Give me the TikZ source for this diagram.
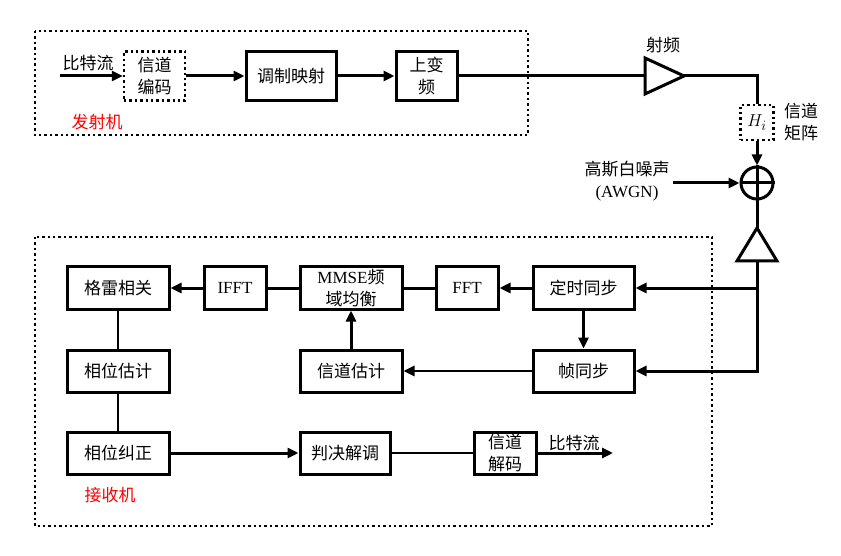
\documentclass[tikz,border=0pt]{standalone}
\usepackage{fontspec}
\setmainfont{Liberation Serif}
\newfontfamily\cjk{Noto Sans CJK SC}
\usetikzlibrary{arrows.meta}
\begin{document}
\begin{tikzpicture}[x=1pt,y=-1pt,
    blk/.style={draw,line width=3pt,inner sep=0pt,minimum height=42pt,align=center},
    zh/.style={font=\fontsize{17}{22}\selectfont\cjk},
    en/.style={font=\fontsize{17}{22}\selectfont},
    dotbox/.style={line width=2.4pt,dash pattern=on 2.4pt off 3pt},
    arr/.style={line width=3pt,-{Triangle[length=11pt,width=10pt]}},
    slim/.style={line width=2.6pt},
    ln/.style={line width=3pt}]
    \useasboundingbox (0,0) rectangle (841,556);
    \draw[dotbox] (35,31) rectangle (528,135);
    \draw[dotbox] (35,237) rectangle (712,526);
    \node[zh] (bitin) at (88,63) {比特流};
    \coordinate (src) at (60,76);
    \node[blk,zh,dotbox,minimum width=61pt,minimum height=49pt] (enc) at (154.5,76) {信道\\编码};
    \node[blk,zh,minimum width=90pt,minimum height=49pt] (mod) at (291,76) {调制映射};
    \node[blk,zh,minimum width=61pt,minimum height=49pt] (upc) at (426.5,76) {上变\\频};
    \node[zh,text=red] (txlbl) at (97,122) {发射机};
    \draw[arr] (src) -- (enc.west);
    \draw[arr] (enc.east) -- (mod.west);
    \draw[arr] (mod.east) -- (upc.west);
    \coordinate (pain) at (645,76);
    \coordinate (paout) at (684,76);
    \draw[ln,line join=miter] (645,58) -- (paout) -- (645,94) -- cycle;
    \node[zh] (rflbl) at (663,45) {射频};
    \draw[ln] (upc.east) -- (pain);
    \node[draw,dotbox,font=\fontsize{19}{22}\selectfont,minimum width=33pt,minimum height=35pt,inner sep=0pt] (chan) at (757,122.5) {$H_i$};
    \node[zh,align=center] (chlbl) at (801,122) {信道\\矩阵};
    \draw[ln] (paout) -| (chan.north);
    \node[draw,circle,line width=3pt,minimum size=32pt,inner sep=0pt] (sum) at (757,183) {};
    \draw[ln] (sum.north) -- (sum.south);
    \draw[ln] (sum.west) -- (sum.east);
    \draw[arr] (chan.south) -- (sum.north);
    \node[zh,align=center] (noise) at (627,181) {高斯白噪声\\{\rmfamily (AWGN)}};
    \coordinate (nsrc) at (673,183);
    \draw[arr] (nsrc) -- (sum.west);
    \coordinate (lnatop) at (757,228);
    \coordinate (lnabot) at (757,261);
    \draw[ln,line join=miter] (lnatop) -- (777,261) -- (737,261) -- cycle;
    \draw[ln] (sum.south) -- (lnatop);
    \node[blk,zh,minimum width=101pt] (sync) at (583.5,288) {定时同步};
    \node[blk,zh,minimum width=101pt] (frm) at (583.5,371) {帧同步};
    \node[blk,en,minimum width=62pt] (fft) at (467,288) {FFT};
    \node[blk,en,minimum width=102pt] (mmse) at (351,288) {MMSE{\cjk 频}\\{\cjk 域均衡}};
    \node[blk,en,minimum width=62pt] (ifft) at (235,288) {IFFT};
    \node[blk,zh,minimum width=102pt] (gray) at (118,288) {格雷相关};
    \node[blk,zh,minimum width=102pt] (chest) at (351,371) {信道估计};
    \node[blk,zh,minimum width=102pt] (phest) at (118,371) {相位估计};
    \node[blk,zh,minimum width=102pt] (phcor) at (118,453) {相位纠正};
    \node[blk,zh,minimum width=90pt] (demod) at (345,453) {判决解调};
    \node[blk,zh,minimum width=62pt] (dec) at (505,453) {信道\\解码};
    \node[zh] (bitout) at (574,443) {比特流};
    \coordinate (sink) at (613,453);
    \node[zh,text=red] (rxlbl) at (110,495) {接收机};
    \coordinate (tap) at (757,288);
    \draw[ln] (lnabot) -- (tap);
    \draw[arr] (tap) -- (sync.east);
    \draw[arr] (tap) |- (frm.east);
    \draw[arr] (sync.west) -- (fft.east);
    \draw[arr,line width=2.6pt] (sync.south) -- (frm.north);
    \draw[ln] (fft.west) -- (mmse.east);
    \draw[ln] (mmse.west) -- (ifft.east);
    \draw[arr] (ifft.west) -- (gray.east);
    \draw[arr,line width=2.6pt] (frm.west) -- (chest.east);
    \draw[arr] (chest.north) -- (mmse.south);
    \draw[slim] (gray.south) -- (phest.north);
    \draw[slim] (phest.south) -- (phcor.north);
    \draw[arr] (phcor.east) -- (demod.west);
    \draw[slim] (demod.east) -- (dec.west);
    \draw[arr] (dec.east) -- (sink);
\end{tikzpicture}
\end{document}
